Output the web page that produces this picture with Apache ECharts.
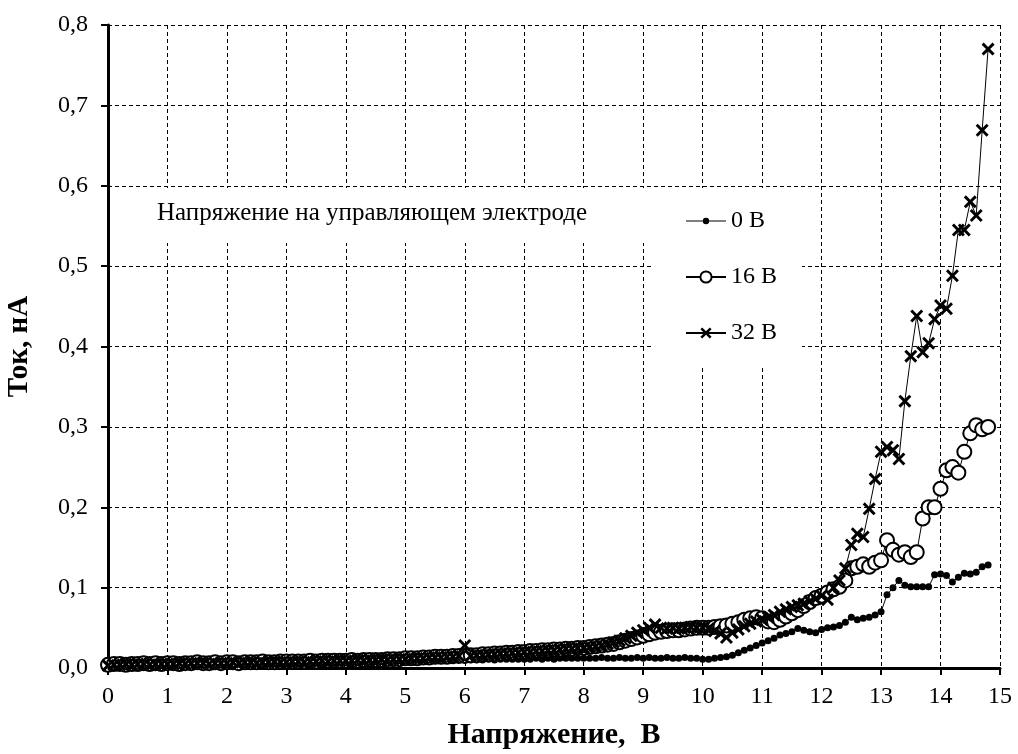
<!DOCTYPE html>
<html>
<head>
<meta charset="utf-8">
<script src="https://cdn.jsdelivr.net/npm/echarts@6/dist/echarts.min.js"></script>
<style>
    html, body { margin: 0; padding: 0; background: #fff; }
    #chart { width: 1018px; height: 754px; }
</style>
</head>
<body>
<div id="chart"></div>
<script>
// voltage on the anode, step 0.1 V
var volts = [
    0.0, 0.1, 0.2, 0.3, 0.4, 0.5, 0.6, 0.7, 0.8, 0.9,
    1.0, 1.1, 1.2, 1.3, 1.4, 1.5, 1.6, 1.7, 1.8, 1.9,
    2.0, 2.1, 2.2, 2.3, 2.4, 2.5, 2.6, 2.7, 2.8, 2.9,
    3.0, 3.1, 3.2, 3.3, 3.4, 3.5, 3.6, 3.7, 3.8, 3.9,
    4.0, 4.1, 4.2, 4.3, 4.4, 4.5, 4.6, 4.7, 4.8, 4.9,
    5.0, 5.1, 5.2, 5.3, 5.4, 5.5, 5.6, 5.7, 5.8, 5.9,
    6.0, 6.1, 6.2, 6.3, 6.4, 6.5, 6.6, 6.7, 6.8, 6.9,
    7.0, 7.1, 7.2, 7.3, 7.4, 7.5, 7.6, 7.7, 7.8, 7.9,
    8.0, 8.1, 8.2, 8.3, 8.4, 8.5, 8.6, 8.7, 8.8, 8.9,
    9.0, 9.1, 9.2, 9.3, 9.4, 9.5, 9.6, 9.7, 9.8, 9.9,
    10.0, 10.1, 10.2, 10.3, 10.4, 10.5, 10.6, 10.7, 10.8, 10.9,
    11.0, 11.1, 11.2, 11.3, 11.4, 11.5, 11.6, 11.7, 11.8, 11.9,
    12.0, 12.1, 12.2, 12.3, 12.4, 12.5, 12.6, 12.7, 12.8, 12.9,
    13.0, 13.1, 13.2, 13.3, 13.4, 13.5, 13.6, 13.7, 13.8, 13.9,
    14.0, 14.1, 14.2, 14.3, 14.4, 14.5, 14.6, 14.7, 14.8
];

// current, nA, gate electrode at 0 V
var current0 = [
    0.003, 0.003, 0.004, 0.004, 0.003, 0.004, 0.004, 0.005, 0.004, 0.004,
    0.004, 0.005, 0.004, 0.005, 0.005, 0.004, 0.005, 0.005, 0.005, 0.005,
    0.005, 0.005, 0.006, 0.005, 0.005, 0.006, 0.006, 0.005, 0.006, 0.006,
    0.006, 0.006, 0.006, 0.007, 0.006, 0.006, 0.007, 0.007, 0.006, 0.007,
    0.007, 0.007, 0.007, 0.008, 0.007, 0.008, 0.008, 0.008, 0.008, 0.008,
    0.008, 0.009, 0.008, 0.009, 0.009, 0.009, 0.009, 0.010, 0.009, 0.010,
    0.010, 0.010, 0.010, 0.010, 0.011, 0.010, 0.011, 0.011, 0.011, 0.011,
    0.011, 0.011, 0.012, 0.011, 0.012, 0.011, 0.012, 0.012, 0.012, 0.012,
    0.012, 0.012, 0.012, 0.013, 0.012, 0.012, 0.013, 0.012, 0.012, 0.013,
    0.012, 0.013, 0.012, 0.012, 0.013, 0.012, 0.012, 0.013, 0.012, 0.012,
    0.011, 0.011, 0.012, 0.013, 0.014, 0.016, 0.019, 0.022, 0.025, 0.028,
    0.031, 0.034, 0.037, 0.041, 0.043, 0.045, 0.049, 0.047, 0.045, 0.044,
    0.048, 0.050, 0.051, 0.053, 0.057, 0.063, 0.060, 0.062, 0.063, 0.066,
    0.070, 0.091, 0.100, 0.109, 0.103, 0.101, 0.101, 0.101, 0.101, 0.116,
    0.117, 0.115, 0.107, 0.113, 0.118, 0.117, 0.119, 0.126, 0.128
];

// current, nA, gate electrode at 16 V
var current16 = [
    0.004, 0.005, 0.005, 0.004, 0.005, 0.005, 0.006, 0.005, 0.006, 0.005,
    0.006, 0.006, 0.005, 0.006, 0.006, 0.007, 0.006, 0.006, 0.007, 0.006,
    0.007, 0.007, 0.006, 0.007, 0.007, 0.007, 0.008, 0.007, 0.007, 0.008,
    0.008, 0.008, 0.008, 0.008, 0.009, 0.008, 0.009, 0.009, 0.009, 0.009,
    0.009, 0.010, 0.009, 0.010, 0.010, 0.010, 0.010, 0.011, 0.011, 0.011,
    0.012, 0.012, 0.012, 0.013, 0.013, 0.014, 0.014, 0.014, 0.015, 0.015,
    0.015, 0.016, 0.016, 0.017, 0.017, 0.018, 0.018, 0.019, 0.019, 0.020,
    0.020, 0.021, 0.021, 0.022, 0.022, 0.023, 0.023, 0.024, 0.024, 0.025,
    0.025, 0.026, 0.027, 0.028, 0.029, 0.030, 0.032, 0.034, 0.036, 0.038,
    0.040, 0.042, 0.044, 0.045, 0.046, 0.047, 0.047, 0.048, 0.049, 0.050,
    0.050, 0.050, 0.051, 0.052, 0.053, 0.055, 0.057, 0.060, 0.062, 0.063,
    0.062, 0.058, 0.057, 0.060, 0.064, 0.068, 0.072, 0.077, 0.082, 0.087,
    0.090, 0.094, 0.098, 0.101, 0.109, 0.124, 0.126, 0.129, 0.126, 0.131,
    0.134, 0.159, 0.147, 0.141, 0.144, 0.138, 0.144, 0.186, 0.200, 0.200,
    0.223, 0.246, 0.250, 0.243, 0.269, 0.292, 0.302, 0.297, 0.300
];

// current, nA, gate electrode at 32 V
var current32 = [
    0.003, 0.004, 0.004, 0.005, 0.004, 0.005, 0.005, 0.004, 0.005, 0.005,
    0.005, 0.005, 0.006, 0.005, 0.006, 0.006, 0.006, 0.005, 0.006, 0.006,
    0.006, 0.007, 0.006, 0.007, 0.007, 0.006, 0.007, 0.007, 0.008, 0.007,
    0.007, 0.008, 0.008, 0.007, 0.008, 0.008, 0.009, 0.008, 0.009, 0.009,
    0.009, 0.009, 0.010, 0.009, 0.010, 0.010, 0.011, 0.010, 0.011, 0.011,
    0.011, 0.012, 0.012, 0.012, 0.013, 0.013, 0.013, 0.014, 0.014, 0.015,
    0.028, 0.015, 0.016, 0.016, 0.017, 0.017, 0.018, 0.018, 0.019, 0.019,
    0.020, 0.020, 0.021, 0.021, 0.022, 0.022, 0.023, 0.024, 0.024, 0.025,
    0.025, 0.026, 0.027, 0.028, 0.030, 0.032, 0.034, 0.037, 0.040, 0.044,
    0.047, 0.050, 0.054, 0.050, 0.049, 0.050, 0.049, 0.050, 0.051, 0.050,
    0.050, 0.049, 0.046, 0.043, 0.038, 0.044, 0.048, 0.052, 0.055, 0.058,
    0.060, 0.063, 0.066, 0.070, 0.073, 0.076, 0.078, 0.080, 0.083, 0.086,
    0.090, 0.085, 0.100, 0.109, 0.124, 0.153, 0.167, 0.163, 0.198, 0.235,
    0.269, 0.275, 0.271, 0.260, 0.332, 0.388, 0.438, 0.393, 0.404, 0.434,
    0.451, 0.447, 0.488, 0.545, 0.545, 0.580, 0.563, 0.669, 0.770
];

var seriesNames = ['0 В', '16 В', '32 В'];
var legendTitle = 'Напряжение на управляющем электроде';

// thick "x" marker drawn as a filled outline
var crossSymbol = 'path://M0,1.6L1.6,0L5,3.4L8.4,0L10,1.6L6.6,5L10,8.4L8.4,10L5,6.6L1.6,10L0,8.4L3.4,5Z';
// legend icon for the 0 V series: thin line with a small dot (corner specks keep the box 40x14)
var smallDotIcon = 'path://M0,0L0.01,0L0,0.01Z M40,14L39.99,14L40,13.99Z ' +
    'M0,6.4L40,6.4L40,7.6L0,7.6Z M20,3.8A3.2,3.2,0,1,1,19.99,3.8Z';

function pairs(xs, ys) {
    var out = [];
    for (var i = 0; i < xs.length; i++) {
        out.push([xs[i], ys[i]]);
    }
    return out;
}

var chart = echarts.init(document.getElementById('chart'));
var serif = 'Liberation Serif, Times New Roman, serif';

var options = {
    backgroundColor: '#fff',
    animation: false,
    textStyle: { fontFamily: serif, color: '#000' },
    grid: { left: 108, right: 18, top: 25, bottom: 86, outerBoundsMode: 'none' },
    legend: {
        data: [
            { name: seriesNames[0], icon: smallDotIcon },
            { name: seriesNames[1] },
            { name: seriesNames[2] }
        ],
        orient: 'vertical',
        left: 680,
        top: 204,
        itemGap: 32,
        itemWidth: 40,
        itemHeight: 14,
        textStyle: { fontFamily: serif, fontSize: 24, color: '#000' }
    },
    graphic: [
        {
            type: 'rect', z: 3, silent: true,
            shape: { x: 112, y: 188, width: 541, height: 55 },
            style: { fill: '#fff' }
        },
        {
            type: 'rect', z: 3, silent: true,
            shape: { x: 653, y: 188, width: 149, height: 177 },
            style: { fill: '#fff' }
        },
        {
            type: 'text', z: 5, silent: true,
            x: 157, y: 213,
            style: {
                text: legendTitle,
                font: '25px ' + serif,
                fill: '#000',
                verticalAlign: 'middle'
            }
        }
    ],
    xAxis: {
        type: 'value',
        min: 0,
        max: 15,
        interval: 1,
        name: 'Напряжение,  В',
        nameLocation: 'middle',
        nameGap: 52,
        nameTextStyle: { fontFamily: serif, fontSize: 30, fontWeight: 'bold', color: '#000' },
        axisLine: { lineStyle: { color: '#000', width: 3 } },
        axisTick: { length: 7, lineStyle: { color: '#000', width: 2 } },
        axisLabel: { fontFamily: serif, fontSize: 24, color: '#000', margin: 17 },
        splitLine: { show: true, lineStyle: { color: '#000', width: 1, type: [4, 3] } }
    },
    yAxis: {
        type: 'value',
        min: 0,
        max: 0.8,
        interval: 0.1,
        name: 'Ток, нА',
        nameLocation: 'middle',
        nameGap: 74,
        nameRotate: 90,
        nameTextStyle: { fontFamily: serif, fontSize: 29, fontWeight: 'bold', color: '#000' },
        axisLine: { show: true, lineStyle: { color: '#000', width: 3 } },
        axisTick: { show: true, length: 7, lineStyle: { color: '#000', width: 2 } },
        axisLabel: {
            fontFamily: serif, fontSize: 24, color: '#000', margin: 20,
            formatter: function (v) { return v.toFixed(1).replace('.', ','); }
        },
        splitLine: { show: true, lineStyle: { color: '#000', width: 1, type: [4, 3] } }
    },
    series: [
        {
            name: seriesNames[0],
            type: 'line',
            z: 2,
            data: pairs(volts, current0),
            symbol: 'circle',
            symbolSize: 7,
            showAllSymbol: true,
            itemStyle: { color: '#000' },
            lineStyle: { color: '#000', width: 1 }
        },
        {
            name: seriesNames[1],
            type: 'line',
            z: 2,
            data: pairs(volts, current16),
            symbol: 'emptyCircle',
            symbolSize: 14,
            showAllSymbol: true,
            itemStyle: { color: '#000', borderWidth: 1.6 },
            lineStyle: { color: '#000', width: 1 }
        },
        {
            name: seriesNames[2],
            type: 'line',
            z: 2,
            data: pairs(volts, current32),
            symbol: crossSymbol,
            symbolSize: 13,
            showAllSymbol: true,
            itemStyle: { color: '#000' },
            lineStyle: { color: '#000', width: 1 }
        }
    ]
};

chart.setOption(options);
</script>
</body>
</html>
